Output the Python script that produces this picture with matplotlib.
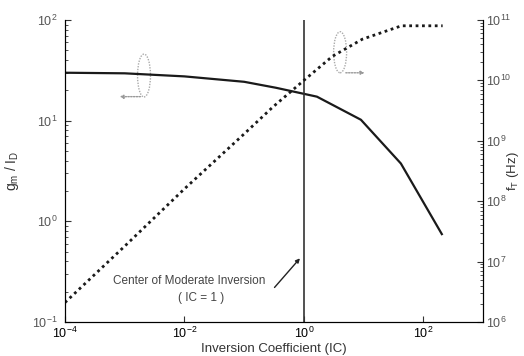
import numpy as np
import matplotlib
matplotlib.use("Agg")
import matplotlib.pyplot as plt
from matplotlib.patches import Ellipse

# gm/ID versus inversion coefficient (solid line, left axis)
ic_gm = [1e-4, 1e-3, 1e-2, 1e-1, 0.34, 1.65, 9.0, 42.0, 208.0]
gm_id = [29.9, 29.5, 27.5, 24.3, 21.2, 17.3, 10.2, 3.75, 0.73]

# fT versus inversion coefficient (dotted line, right axis)
ic_ft = [1e-4, 1e-3, 1e-2, 1e-1, 0.3, 1.0, 3.0, 9.5, 43.0, 210.0]
f_t = [2.1e6, 1.8e7, 1.6e8, 1.3e9, 3.6e9, 1.0e10, 2.5e10, 4.8e10, 8.0e10, 8.0e10]

x_ticks = [1e-4, 1e-2, 1e0, 1e2]
x_ticklabels = ['$10^{-4}$', '$10^{-2}$', '$10^{0}$', '$10^{2}$']
ic_center = 1.0

text_gray = '#555555'
line_col = '#1a1a1a'

plt.rcParams['font.family'] = ['Liberation Sans', 'DejaVu Sans']
plt.rcParams['mathtext.fontset'] = 'custom'
plt.rcParams['mathtext.rm'] = 'Liberation Sans'
plt.rcParams['mathtext.it'] = 'Liberation Sans'

fig = plt.figure(figsize=(5.24, 3.56), dpi=100)
ax = fig.add_axes([0.124, 0.0955, 0.798, 0.8485])
ax2 = ax.twinx()

ax.plot(ic_gm, gm_id, color=line_col, lw=1.6, solid_capstyle='butt')
ax2.plot(ic_ft, f_t, color=line_col, lw=2.0, linestyle=(0, (1.0, 1.3)))
ax.axvline(ic_center, color='#333333', lw=1.2)

ax.set_xscale('log')
ax.set_yscale('log')
ax2.set_yscale('log')
ax.set_xlim(1e-4, 1e3)
ax.set_ylim(1e-1, 1e2)
ax2.set_ylim(1e6, 1e11)

ax.set_xticks(x_ticks)
ax.set_xticklabels(x_ticklabels, fontsize=9, fontweight='bold')
ax.xaxis.set_minor_locator(matplotlib.ticker.NullLocator())

for a in (ax, ax2):
    a.spines['top'].set_visible(False)
    a.tick_params(which='both', direction='in', color='#333333')
    a.tick_params(which='major', length=4)
    a.tick_params(which='minor', length=2)
ax.tick_params(axis='y', labelsize=9, labelcolor=text_gray, pad=5.5)
ax2.tick_params(axis='y', labelsize=9, labelcolor=text_gray, pad=2)
ax.tick_params(axis='x', pad=3)

ax.set_xlabel('Inversion Coefficient (IC)', fontsize=9.5, color='#333333')
ax.xaxis.set_label_coords(0.5, -0.07)
ax.set_ylabel('g$_m$ / I$_D$', fontsize=10, color='#333333')
ax.yaxis.set_label_coords(-0.105, 0.5)
ax2.set_ylabel('f$_T$ (Hz)', fontsize=9.5, color='#333333')
ax2.yaxis.set_label_coords(1.052, 0.5)

# annotation for IC = 1
ax.annotate('', xy=(0.92, 0.45), xytext=(0.3, 0.21),
            arrowprops=dict(arrowstyle='-|>', color='#222222', lw=1.0,
                            mutation_scale=6))
ax.text(1.2e-2, 0.255, 'Center of Moderate Inversion', fontsize=8.5,
        color='#444444', ha='center', va='center')
ax.text(1.9e-2, 0.175, '( IC = 1 )', fontsize=8.5,
        color='#444444', ha='center', va='center')

# dotted ellipse markers pointing to each axis
tr = ax.transAxes
for cx, cy, w, h in [(0.189, 0.816, 0.031, 0.142), (0.658, 0.893, 0.031, 0.136)]:
    e = Ellipse((cx, cy), w, h, transform=tr, fill=False,
                edgecolor='#aaaaaa', lw=1.0, linestyle=(0, (1, 1)))
    ax.add_patch(e)
ax.annotate('', xy=(0.124, 0.746), xytext=(0.187, 0.746), xycoords=tr,
            arrowprops=dict(arrowstyle='-|>', color='#999999', lw=1.0,
                            linestyle=(0, (1, 1)), mutation_scale=5))
ax.annotate('', xy=(0.723, 0.825), xytext=(0.665, 0.825), xycoords=tr,
            arrowprops=dict(arrowstyle='-|>', color='#999999', lw=1.0,
                            linestyle=(0, (1, 1)), mutation_scale=5))

fig.savefig('out.png', dpi=100)
